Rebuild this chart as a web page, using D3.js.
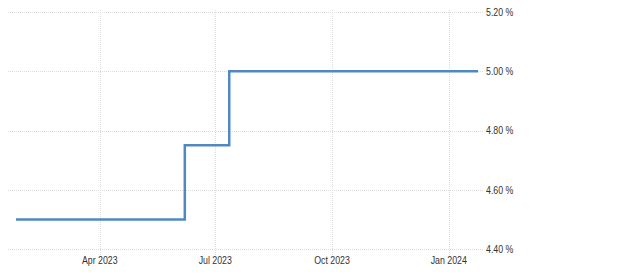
<!DOCTYPE html>
<html><head><meta charset="utf-8">
<script src="https://cdn.jsdelivr.net/npm/d3@7"></script>
<style>
html,body{margin:0;padding:0;background:#fff;}
svg text{font-family:"Liberation Sans",Arial,sans-serif;font-size:11px;fill:#333;}
</style></head>
<body>
<svg id="chart" width="624" height="277"></svg>
<script>
// Step dates (rate changes) and values
const dates = ["2023-01-25","2023-06-07","2023-07-12","2024-01-24"];
const rates = [4.50, 4.75, 5.00, 5.00];
const yTicks = [4.40, 4.60, 4.80, 5.00, 5.20];
const xTickDates = ["2023-04-01","2023-07-01","2023-10-01","2024-01-01"];
const xTickLabels = ["Apr 2023","Jul 2023","Oct 2023","Jan 2024"];

const parse = d3.timeParse("%Y-%m-%d");
const data = dates.map((d,i)=>({date:parse(d), value:rates[i]}));

const svg = d3.select("#chart");
const x = d3.scaleTime()
  .domain([parse("2023-01-25"), parse("2024-01-24")])
  .range([16, 478]);
const y = d3.scaleLinear().domain([4.40, 5.20]).range([249, 12]);
const sx = 0.8;

// horizontal gridlines
svg.append("g").selectAll("line").data(yTicks).join("line")
  .attr("x1", 8).attr("x2", 483)
  .attr("y1", d=>Math.round(y(d))+0.5).attr("y2", d=>Math.round(y(d))+0.5)
  .attr("stroke", "#dcdcdc").attr("stroke-dasharray", "1,1").attr("shape-rendering","crispEdges");

// vertical gridlines
svg.append("g").selectAll("line").data(xTickDates).join("line")
  .attr("x1", d=>Math.round(x(parse(d)))+0.5).attr("x2", d=>Math.round(x(parse(d)))+0.5)
  .attr("y1", 10).attr("y2", 255)
  .attr("stroke", "#dcdcdc").attr("stroke-dasharray", "1,1").attr("shape-rendering","crispEdges");

// y labels
svg.append("g").selectAll("g").data(yTicks).join("g")
  .attr("transform", d=>`translate(486,${y(d)}) scale(${sx},1)`)
  .append("text").attr("dy","0.35em")
  .text(d=>d.toFixed(2)+" %");

// x labels
svg.append("g").selectAll("g").data(xTickDates).join("g")
  .attr("transform", d=>`translate(${x(parse(d))},264) scale(${sx},1)`)
  .append("text")
  .attr("text-anchor","middle")
  .text((d,i)=>xTickLabels[i]);

// step line
const line = d3.line().x(d=>x(d.date)).y(d=>y(d.value)).curve(d3.curveStepAfter);
svg.append("path").datum(data)
  .attr("d", line)
  .attr("fill","none")
  .attr("stroke","#5088c2")
  .attr("stroke-width",2.5);
</script>
</body></html>
